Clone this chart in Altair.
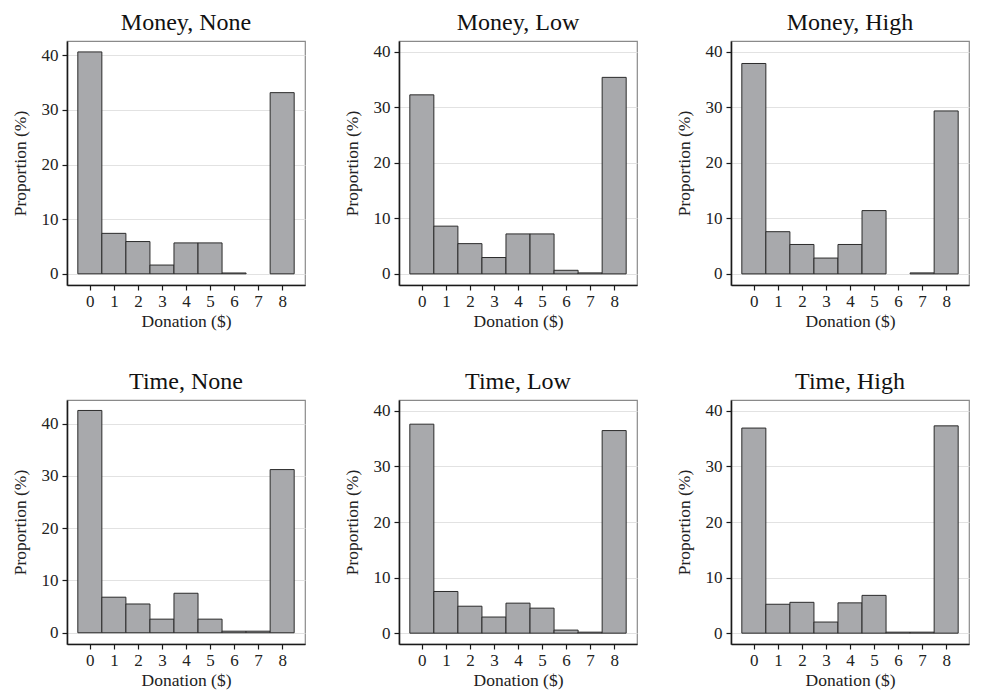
import altair as alt
import pandas as pd

donation = [0, 1, 2, 3, 4, 5, 6, 7, 8]

money_none = [40.6, 7.4, 5.9, 1.6, 5.65, 5.65, 0.15, 0.0, 33.15]
money_low = [32.25, 8.6, 5.45, 2.95, 7.2, 7.2, 0.65, 0.18, 35.4]
money_high = [37.9, 7.6, 5.3, 2.85, 5.3, 11.4, 0.0, 0.18, 29.35]
time_none = [42.5, 6.8, 5.5, 2.6, 7.55, 2.6, 0.3, 0.3, 31.2]
time_low = [37.6, 7.5, 4.85, 2.9, 5.4, 4.5, 0.55, 0.18, 36.45]
time_high = [36.9, 5.2, 5.55, 2.0, 5.45, 6.8, 0.18, 0.18, 37.3]

panel_titles = ["Money, None", "Money, Low", "Money, High",
                "Time, None", "Time, Low", "Time, High"]
panel_values = [money_none, money_low, money_high, time_none, time_low, time_high]
y_domains = [[-2.05, 42.6], [-2.0, 41.95], [-2.0, 41.95],
             [-2.15, 44.5], [-1.95, 41.95], [-1.95, 41.95]]

y_ticks = [0, 10, 20, 30, 40]
x_ticks = donation

FONT = "Liberation Serif"
W, H = 238, 244


def panel(title, values, ydom):
    df = pd.DataFrame({"donation": donation, "p": values})
    base = alt.Chart(df)
    bars = base.transform_filter("datum.p > 0").transform_calculate(
        lo="datum.donation - 0.5", hi="datum.donation + 0.5"
    ).mark_bar(fill="#a8a9ac", stroke="#2b2b2b", strokeWidth=1).encode(
        x=alt.X("lo:Q",
                scale=alt.Scale(domain=[-0.95, 8.95], nice=False, zero=False),
                axis=alt.Axis(values=x_ticks, format="d", title="Donation ($)",
                              grid=False, labelPadding=3, titlePadding=3)),
        x2="hi:Q",
        y=alt.Y("p:Q",
                scale=alt.Scale(domain=ydom, nice=False, zero=False),
                axis=alt.Axis(values=y_ticks, format="d", title="Proportion (%)",
                              grid=True, labelPadding=4, titlePadding=12)),
        y2=alt.datum(0),
    )
    return bars.properties(
        width=W, height=H,
        title=alt.TitleParams(title, fontSize=24, font=FONT, fontWeight="normal",
                              color="#111111", offset=6, anchor="middle"),
    )


charts = [panel(t, v, d) for t, v, d in zip(panel_titles, panel_values, y_domains)]

row1 = alt.hconcat(*charts[:3], spacing=36)
row2 = alt.hconcat(*charts[3:], spacing=36)
chart = alt.vconcat(row1, row2, spacing=38).properties(
    padding={"left": 2, "top": 2, "right": 0, "bottom": 0}
).configure_view(
    stroke="#8a8a8a", strokeWidth=1.2
).configure_axis(
    labelFont=FONT, titleFont=FONT, labelFontSize=17, titleFontSize=17.5,
    titleFontWeight="normal", labelColor="#222222", titleColor="#222222",
    domainColor="#1a1a1a", domainWidth=1.6, tickColor="#1a1a1a", tickSize=5,
    tickWidth=1.2, gridColor="#e2e2e2", gridWidth=1.2,
)

chart.save("out.html", embed_options={"renderer": "svg", "actions": False})
